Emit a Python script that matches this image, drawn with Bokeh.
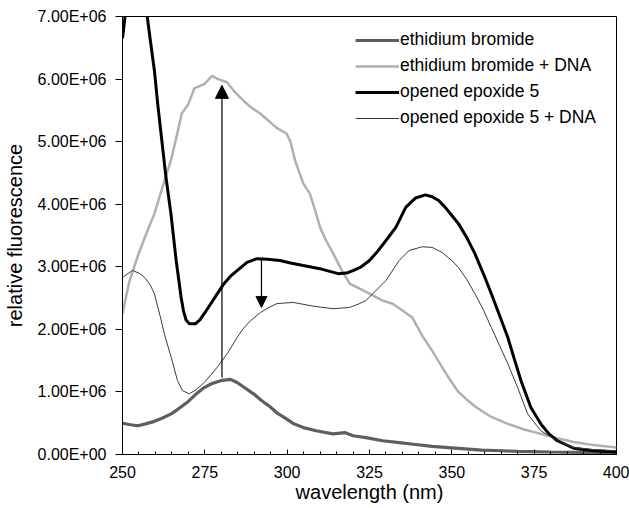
from bokeh.plotting import figure
from bokeh.models import (ColumnDataSource, Range1d, FixedTicker, Legend, LegendItem,
                          Arrow, NormalHead)
from bokeh.embed import file_html
from bokeh.resources import INLINE

# ---------------- data ----------------
eb_wl = [250, 252, 254.6, 257, 259.7, 262, 264.8, 267, 269.8, 272, 274.8, 277, 279.8,
         282.8, 284.8, 287, 289.8, 292, 294.9, 297, 299.8, 302, 304.9, 308.8, 313.9,
         317.5, 320, 323.9, 329, 334, 339, 344, 349, 354, 359, 365, 370, 380, 390, 400]
eb_val = [0.50, 0.48, 0.46, 0.49, 0.53, 0.58, 0.65, 0.73, 0.84, 0.95, 1.07, 1.13, 1.18,
          1.20, 1.15, 1.07, 0.97, 0.87, 0.76, 0.66, 0.57, 0.49, 0.43, 0.38, 0.33,
          0.35, 0.30, 0.27, 0.22, 0.19, 0.16, 0.13, 0.11, 0.09, 0.07, 0.06, 0.05, 0.04,
          0.035, 0.03]

ebd_wl = [250, 252, 254.7, 257, 259.7, 262, 264.7, 266.5, 268, 270, 271.8, 274.8, 277.2,
          279, 281.7, 284, 286.8, 289, 291.8, 294, 296.8, 299.8, 301, 302.4, 304.9,
          306.9, 308.5, 310, 312, 314, 316.5, 319, 322, 325, 329, 332, 335, 338, 339,
          341, 344, 347, 349, 352, 354.5, 357, 359, 362, 367, 372, 377, 382, 387, 393, 400]
ebd_val = [2.25, 2.75, 3.18, 3.50, 3.85, 4.25, 4.70, 5.10, 5.45, 5.60, 5.85, 5.92, 6.05,
           6.00, 5.95, 5.80, 5.65, 5.55, 5.45, 5.35, 5.22, 5.13, 5.00, 4.70, 4.33,
           4.17, 3.90, 3.63, 3.40, 3.21, 2.95, 2.73, 2.65, 2.57, 2.46, 2.41, 2.30, 2.19,
           2.09, 1.90, 1.66, 1.40, 1.23, 1.00, 0.88, 0.77, 0.70, 0.60, 0.49, 0.40, 0.33,
           0.26, 0.20, 0.15, 0.11]

oe_wl = [250, 251, 253, 255, 256.5, 257.5, 258.5, 259.7, 260.7, 261.7, 263.2, 264.7,
         266.3, 267.8, 268.5, 269.3, 270.3, 272.2, 273.5, 274.8, 276.8, 278.8, 280.8,
         282.8, 284.8, 287.8, 290.8, 294, 297.8, 301, 304.9, 309.9, 315.5, 318, 320,
         322.5, 325, 327.5, 330, 333, 336, 339, 342, 344, 346, 348, 350, 352, 354.5,
         357, 359.5, 362, 364.5, 367, 369, 371, 374, 377, 379.5, 382, 387, 393, 400]
oe_val = [6.65, 7.10, 7.70, 7.80, 7.40, 7.00, 6.60, 6.13, 5.60, 5.13, 4.43, 3.85,
          3.10, 2.51, 2.30, 2.15, 2.09, 2.09, 2.15, 2.25, 2.41, 2.57, 2.73,
          2.85, 2.94, 3.07, 3.13, 3.12, 3.10, 3.06, 3.02, 2.97, 2.89, 2.90, 2.94,
          3.00, 3.10, 3.25, 3.42, 3.63, 3.95, 4.10, 4.15, 4.12, 4.06, 3.95, 3.82, 3.69, 3.47,
          3.21, 2.90, 2.57, 2.22, 1.87, 1.52, 1.18, 0.75, 0.49, 0.33, 0.22, 0.10, 0.06, 0.04]

oed_wl = [250, 253, 255, 256.7, 258.3, 259.7, 260.2, 261.5, 262.7, 263.8, 264.8, 266.7,
          268.2, 270.3, 272.5, 274.8, 276.8, 278.7, 281.8, 284.8, 286.8, 288.9, 291.9,
          294.5, 296.8, 299, 301.9, 303.9, 308, 313.9, 318.9, 321.5, 323.9, 326, 330,
          334, 337, 341, 344, 347, 350, 352, 354.5, 357, 359.5, 362, 364.5, 367, 370,
          373, 377, 382, 387, 393, 400]
oed_val = [2.83, 2.94, 2.90, 2.83, 2.72, 2.57, 2.46, 2.20, 1.93, 1.73, 1.55, 1.18,
           1.02, 0.97, 1.04, 1.15, 1.27, 1.39, 1.61, 1.87, 2.02, 2.14, 2.27,
           2.35, 2.41, 2.42, 2.43, 2.41, 2.37, 2.33, 2.35, 2.40, 2.46, 2.57, 2.78,
           3.10, 3.26, 3.32, 3.31, 3.23, 3.10, 2.99, 2.80, 2.57, 2.32, 2.03, 1.74, 1.45, 1.07,
           0.65, 0.38, 0.22, 0.11, 0.08, 0.06]

series_names = ["ethidium bromide", "ethidium bromide + DNA",
                "opened epoxide 5", "opened epoxide 5 + DNA"]

# arrows: wavelength, start value, end value (units of 1E6)
arrow_up = dict(x=[280.2], y0=[1.23], y1=[5.90])
arrow_down = dict(x=[292.2], y0=[3.13], y1=[2.35])

x_ticks = [250, 275, 300, 325, 350, 375, 400]
y_ticks = [0, 1e6, 2e6, 3e6, 4e6, 5e6, 6e6, 7e6]
y_tick_labels = ["0.00E+00", "1.00E+06", "2.00E+06", "3.00E+06",
                 "4.00E+06", "5.00E+06", "6.00E+06", "7.00E+06"]

SCALE = 1e6
FONT = "Liberation Sans"

p = figure(width=629, height=508, output_backend="svg", toolbar_location=None,
           x_range=Range1d(250, 400), y_range=Range1d(0, 7e6),
           min_border_left=118, min_border_right=13, min_border_top=16, min_border_bottom=54)
p.background_fill_color = "white"
p.border_fill_color = "white"
p.outline_line_color = "black"
p.outline_line_width = 1
p.grid.visible = False

def src(wl, vals):
    return ColumnDataSource(dict(x=wl, y=[v * SCALE for v in vals]))

r_eb = p.line("x", "y", source=src(eb_wl, eb_val), line_color="#5e5e5e", line_width=3.2)
r_ebd = p.line("x", "y", source=src(ebd_wl, ebd_val), line_color="#b0b0b0", line_width=2.5)
r_oe = p.line("x", "y", source=src(oe_wl, oe_val), line_color="black", line_width=3)
r_oed = p.line("x", "y", source=src(oed_wl, oed_val), line_color="#3a3a3a", line_width=1)

def asrc(d):
    return ColumnDataSource(dict(x=d["x"], y0=[v * SCALE for v in d["y0"]],
                                 y1=[v * SCALE for v in d["y1"]]))

p.add_layout(Arrow(end=NormalHead(size=13, fill_color="black", line_color="black"),
                   x_start="x", y_start="y0", x_end="x", y_end="y1",
                   source=asrc(arrow_up), line_color="black", line_width=1.2))
p.add_layout(Arrow(end=NormalHead(size=11, fill_color="black", line_color="black"),
                   x_start="x", y_start="y0", x_end="x", y_end="y1",
                   source=asrc(arrow_down), line_color="black", line_width=1.2))

# axes
xa = p.xaxis[0]
xa.ticker = FixedTicker(ticks=x_ticks, minor_ticks=list(range(250, 401, 5)))
xa.axis_label = "wavelength (nm)"
xa.major_tick_in = 5
xa.major_tick_out = 0
xa.minor_tick_in = 3
xa.minor_tick_out = 0
xa.major_label_standoff = 11

ya = p.yaxis[0]
ya.ticker = FixedTicker(ticks=y_ticks)
ya.major_label_overrides = {t: l for t, l in zip(y_ticks, y_tick_labels)}
ya.axis_label = "relative fluorescence"
ya.major_tick_in = 0
ya.major_tick_out = 7
ya.minor_tick_in = 0
ya.minor_tick_out = 0
ya.major_label_standoff = 9

for ax in (xa, ya):
    ax.axis_line_color = "black"
    ax.major_tick_line_color = "black"
    ax.minor_tick_line_color = "black"
    ax.major_label_text_font = FONT
    ax.major_label_text_font_size = "16px"
    ax.major_label_text_color = "black"
    ax.axis_label_text_font = FONT
    ax.axis_label_text_font_size = "20px"
    ax.axis_label_text_font_style = "normal"
    ax.axis_label_text_color = "black"
xa.axis_label_standoff = 0
ya.axis_label_standoff = 9

legend = Legend(items=[LegendItem(label=n, renderers=[r]) for n, r in
                       zip(series_names, [r_eb, r_ebd, r_oe, r_oed])],
                location=(233, 326), orientation="vertical",
                glyph_width=44, glyph_height=20, label_standoff=1, spacing=5,
                padding=6, margin=0,
                label_text_font=FONT, label_text_font_size="17.5px",
                label_text_color="black", label_height=20,
                border_line_color=None, background_fill_alpha=0)
p.add_layout(legend)

open("out.html", "w").write(file_html(p, INLINE))
